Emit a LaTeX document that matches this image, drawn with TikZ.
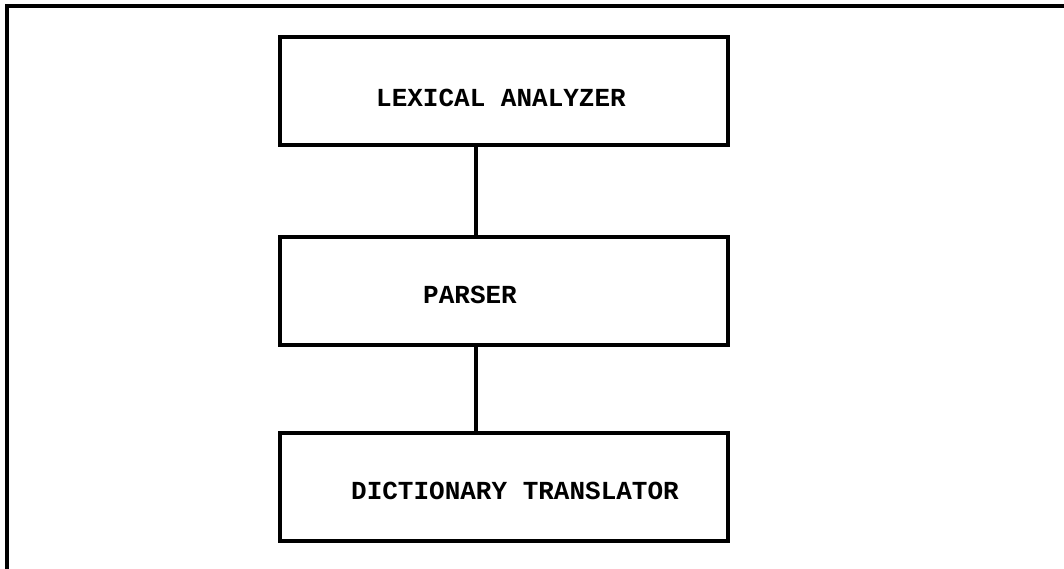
\documentclass[tikz,border=0pt]{standalone}
\usepackage{fontspec}
\setmonofont{Liberation Mono}
\usetikzlibrary{positioning}

\begin{document}
\begin{tikzpicture}
        [x=1pt, y=-1pt,
        stage/.style = {draw=black, line width=3.4pt, minimum width=448pt, minimum height=108pt, inner sep=0pt},
        caption/.style = {text=black, font=\ttfamily\bfseries\fontsize{26}{28}\selectfont, inner sep=0pt},
        lines/.style = {line width=3.4pt}]
        \useasboundingbox (0,0) rectangle (1064,569);

        % frame, only top and left edge
        \draw[lines] (1064,6) -- (7,6) -- (7,569);

        \node[stage] (lex) at (504,91) {};
        \node[stage] (par) at (504,291) {};
        \node[stage] (dic) at (504,487) {};

        \node[caption] (lexT) at (501,98) {LEXICAL ANALYZER};
        \node[caption] (parT) at (470,295) {PARSER};
        \node[caption] (dicT) at (515,491) {DICTIONARY TRANSLATOR};

        \draw[lines] ([xshift=-28pt]lex.south) -- ([xshift=-28pt]par.north);
        \draw[lines] ([xshift=-28pt]par.south) -- ([xshift=-28pt]dic.north);

    \end{tikzpicture}
\end{document}
